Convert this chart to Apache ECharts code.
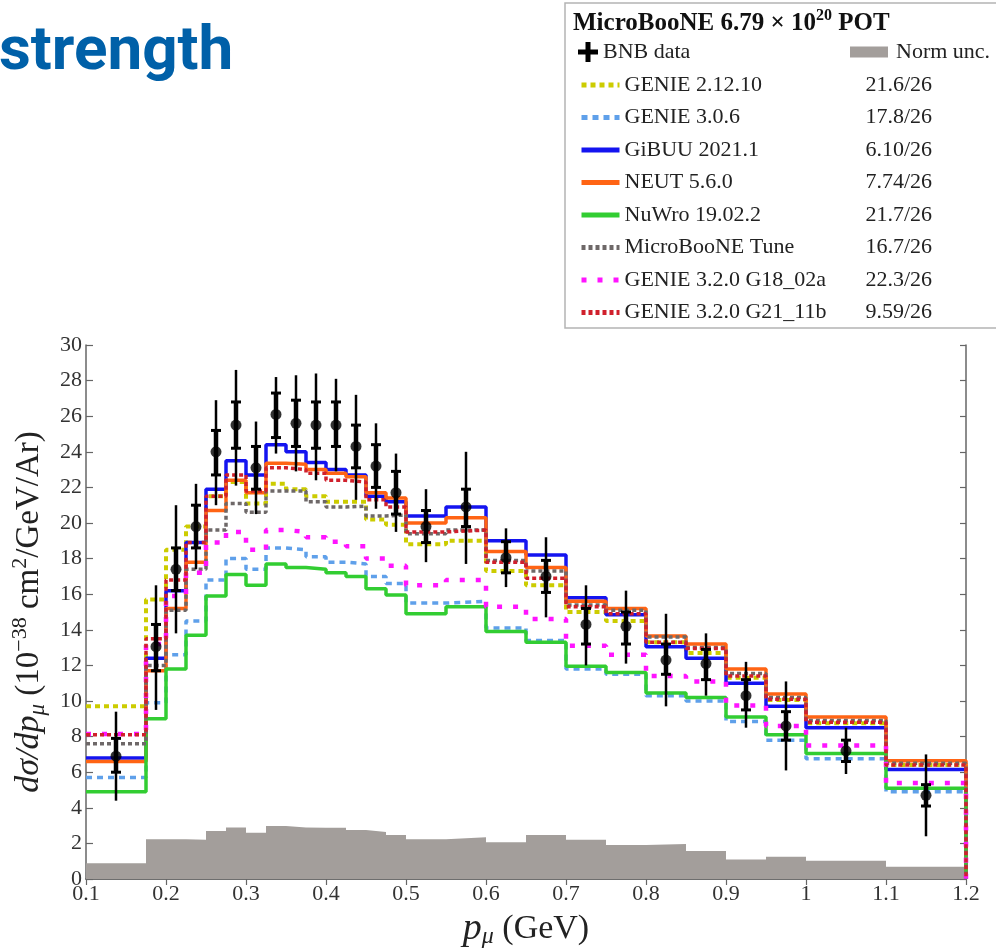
<!DOCTYPE html>
<html>
<head>
<meta charset="utf-8">
<script src="https://cdn.jsdelivr.net/npm/echarts@6/dist/echarts.min.js"></script>
<style>
html, body { margin: 0; padding: 0; background: #fff; }
#chart { width: 996px; height: 951px; }
</style>
</head>
<body>
<div id="chart"></div>
<script>
// bin edges of p_mu (GeV)
const binEdges = [0.1, 0.175, 0.2, 0.225, 0.25, 0.275, 0.3, 0.325, 0.35, 0.375, 0.4, 0.425, 0.45, 0.475,
    0.5, 0.55, 0.6, 0.65, 0.7, 0.75, 0.8, 0.85, 0.9, 0.95, 1.0, 1.1, 1.2];

// BNB data: central value, total (outer) and inner error bar ends
const dataVal = [6.9, 13.05, 17.4, 19.8, 24.0, 25.5, 23.1, 26.1, 25.6, 25.5, 25.5, 24.3, 23.2, 21.7,
    19.8, 20.9, 18.05, 17.0, 14.3, 14.2, 12.3, 12.1, 10.3, 8.6, 7.2, 4.7];
const outerHi = [9.4, 16.5, 21.0, 22.2, 26.9, 28.6, 25.7, 28.2, 28.3, 28.4, 28.1, 27.2, 25.6, 23.9,
    21.9, 24.0, 19.7, 19.2, 16.5, 16.2, 14.9, 13.8, 12.2, 11.1, 8.5, 7.0];
const outerLo = [4.4, 9.5, 13.8, 17.4, 21.0, 22.1, 20.5, 23.9, 22.9, 22.4, 22.9, 21.3, 20.8, 19.5,
    17.8, 17.7, 16.4, 14.7, 12.0, 12.1, 9.7, 10.3, 8.5, 6.1, 5.9, 2.4];
const innerHi = [7.9, 14.3, 18.6, 21.0, 25.2, 26.8, 24.3, 27.3, 26.9, 26.8, 26.8, 25.5, 24.4, 22.9,
    20.7, 21.9, 18.95, 17.9, 15.2, 15.0, 13.2, 12.9, 11.2, 9.4, 7.8, 5.3];
const innerLo = [6.0, 11.7, 16.2, 18.6, 22.7, 24.2, 21.9, 24.8, 24.3, 24.2, 24.3, 23.1, 22.0, 20.5,
    18.9, 19.8, 17.2, 16.1, 13.2, 13.2, 11.5, 11.2, 9.5, 7.8, 6.6, 4.1];

// normalisation uncertainty band
const normUnc = [0.88, 2.23, 2.23, 2.2, 2.7, 2.9, 2.6, 2.98, 2.9, 2.88, 2.88, 2.75, 2.64, 2.47,
    2.23, 2.34, 2.06, 2.47, 2.2, 1.91, 1.96, 1.57, 1.1, 1.25, 1.03, 0.69];

// generator predictions
const genie2 = [9.7, 15.7, 18.5, 19.8, 21.5, 22.3, 21.1, 22.2, 21.9, 21.5, 21.2, 21.2, 20.2, 19.9,
    18.8, 19.0, 17.3, 16.5, 15.0, 14.5, 13.3, 12.7, 11.3, 10.05, 8.75, 6.4];
const genie306 = [5.7, 9.9, 12.6, 14.5, 16.8, 18.0, 17.4, 18.6, 18.5, 18.1, 17.8, 17.7, 17.0, 16.6,
    15.5, 15.6, 14.1, 13.4, 11.8, 11.5, 10.3, 10.0, 8.85, 7.8, 6.75, 4.9];
const gibuu = [6.8, 12.4, 16.2, 18.9, 21.9, 23.5, 22.7, 24.4, 24.0, 23.4, 23.0, 22.7, 21.5, 21.2,
    20.4, 20.9, 19.0, 18.2, 15.8, 14.85, 13.05, 12.4, 11.0, 9.7, 8.5, 6.15];
const neut = [6.6, 11.7, 15.2, 17.8, 20.7, 22.4, 21.7, 23.35, 23.3, 23.0, 22.8, 22.6, 21.7, 21.4,
    20.0, 20.3, 18.4, 17.5, 15.6, 15.2, 13.65, 13.2, 11.8, 10.4, 9.1, 6.65];
const nuwro = [4.9, 9.0, 11.8, 13.7, 15.9, 17.1, 16.5, 17.7, 17.5, 17.4, 17.2, 17.0, 16.3, 15.95,
    14.9, 15.3, 13.9, 13.3, 11.95, 11.6, 10.45, 10.2, 9.1, 8.1, 7.05, 5.1];
const ubTune = [7.6, 12.0, 15.1, 17.4, 19.6, 21.1, 20.6, 21.8, 21.8, 21.2, 20.9, 20.95, 20.4, 20.45,
    19.4, 19.6, 17.9, 17.3, 15.4, 15.1, 13.6, 13.0, 11.55, 10.2, 8.9, 6.5];
const g18 = [8.15, 13.2, 15.9, 17.2, 18.9, 19.5, 18.5, 19.6, 19.5, 19.2, 18.95, 18.7, 18.0, 17.6,
    16.5, 16.8, 15.3, 14.6, 13.1, 12.6, 11.4, 11.1, 9.75, 8.6, 7.5, 5.4];
const g21 = [8.1, 13.5, 16.8, 18.9, 21.5, 22.7, 21.8, 23.1, 23.0, 22.8, 22.4, 22.3, 21.3, 20.9,
    19.5, 19.6, 17.8, 16.9, 15.3, 14.9, 13.3, 12.95, 11.4, 10.1, 8.8, 6.4];

const modelNames = ['GENIE 2.12.10', 'GENIE 3.0.6', 'GiBUU 2021.1', 'NEUT 5.6.0', 'NuWro 19.02.2',
    'MicroBooNE Tune', 'GENIE 3.2.0 G18_02a', 'GENIE 3.2.0 G21_11b'];
const modelChi2 = ['21.6/26', '17.8/26', '6.10/26', '7.74/26', '21.7/26', '16.7/26', '22.3/26', '9.59/26'];
const modelVals = [genie2, genie306, gibuu, neut, nuwro, ubTune, g18, g21];

const modelStyles = [
    { color: '#cccc00', width: 4, type: [5, 4] },
    { color: '#5fa0ea', width: 3.5, type: [6, 5] },
    { color: '#1414f0', width: 3.5, type: 'solid' },
    { color: '#ff6414', width: 3.5, type: 'solid' },
    { color: '#32cd32', width: 3.5, type: 'solid' },
    { color: '#6e6868', width: 3.5, type: [4, 3] },
    { color: '#ff14ff', width: 4.5, type: [5, 11] },
    { color: '#d0202c', width: 3.5, type: [4, 3] }
];

const serif = 'Liberation Serif';

function stepData(vals, drop) {
    var pts = [];
    for (var i = 0; i < vals.length; i++) pts.push([binEdges[i], vals[i]]);
    pts.push([binEdges[vals.length], vals[vals.length - 1]]);
    if (drop) pts.push([binEdges[vals.length], 0]);
    return pts;
}

function plotXsec(div) {
    var series = [];

    series.push({
        name: 'Norm unc.',
        type: 'line',
        step: 'end',
        symbol: 'none',
        data: stepData(normUnc, false),
        color: '#a39e9b',
        lineStyle: { width: 0 },
        areaStyle: { color: '#a39e9b', opacity: 1 },
        z: 1
    });

    modelNames.forEach(function (name, k) {
        var st = modelStyles[k];
        series.push({
            name: name,
            type: 'line',
            step: 'end',
            symbol: 'none',
            data: stepData(modelVals[k], true),
            color: st.color,
            lineStyle: { color: st.color, width: st.width, type: st.type, cap: 'butt' },
            z: 2 + k
        });
    });

    var errData = dataVal.map(function (v, i) {
        var xc = (binEdges[i] + binEdges[i + 1]) / 2;
        return [xc, v, outerHi[i], outerLo[i], innerHi[i], innerLo[i]];
    });

    series.push({
        name: 'BNB data',
        type: 'custom',
        data: errData,
        color: '#000',
        itemStyle: { color: '#000' },
        z: 20,
        renderItem: function (params, api) {
            var x = api.value(0);
            var c = api.coord([x, api.value(1)]);
            var oh = api.coord([x, api.value(2)])[1];
            var ol = api.coord([x, api.value(3)])[1];
            var ih = api.coord([x, api.value(4)])[1];
            var il = api.coord([x, api.value(5)])[1];
            return {
                type: 'group',
                children: [
                    { type: 'line', shape: { x1: c[0], y1: oh, x2: c[0], y2: ol }, style: { stroke: '#000', lineWidth: 2.5 } },
                    { type: 'line', shape: { x1: c[0], y1: ih, x2: c[0], y2: il }, style: { stroke: '#000', lineWidth: 4.5 } },
                    { type: 'line', shape: { x1: c[0] - 5, y1: ih, x2: c[0] + 5, y2: ih }, style: { stroke: '#000', lineWidth: 3 } },
                    { type: 'line', shape: { x1: c[0] - 5, y1: il, x2: c[0] + 5, y2: il }, style: { stroke: '#000', lineWidth: 3 } }
                ]
            };
        }
    });

    series.push({
        name: 'BNB data',
        type: 'scatter',
        symbol: 'circle',
        symbolSize: 11,
        color: '#000',
        data: errData.map(function (d) { return [d[0], d[1]]; }),
        z: 21
    });

    var chi2Of = {};
    modelNames.forEach(function (n, k) { chi2Of[n] = modelChi2[k]; });

    var legendText = { fontFamily: serif, fontSize: 22, color: '#222' };

    var chartDom = document.getElementById(div);
    var myChart = echarts.init(chartDom, null, { renderer: 'canvas' });

    var option = {
        animation: false,
        backgroundColor: '#fff',
        title: [{
            text: 'strength',
            left: -6,
            top: 17,
            textStyle: { fontFamily: 'Roboto', fontWeight: 'bold', fontSize: 62, color: '#0060a8' }
        }, {
            text: '{b|MicroBooNE 6.79 × 10}{s|20}{b| POT}',
            left: 568,
            top: 3,
            textStyle: {
                rich: {
                    b: { fontFamily: serif, fontWeight: 'bold', fontSize: 25, lineHeight: 32, color: '#111' },
                    s: { fontFamily: serif, fontWeight: 'bold', fontSize: 16, lineHeight: 18, verticalAlign: 'top', color: '#111' }
                }
            }
        }],
        graphic: [{
            type: 'rect',
            shape: { x: 565, y: 3, width: 460, height: 325 },
            style: { fill: 'none', stroke: '#b4b4b4', lineWidth: 1.5 },
            z: 0
        }],
        legend: [{
            data: [{ name: 'BNB data', icon: 'path://M3,0h2v3h3v2h-3v3h-2v-3h-3v-2h3z', itemStyle: { color: '#000' } }],
            left: 573,
            top: 36,
            itemWidth: 20,
            itemHeight: 20,
            selectedMode: false,
            textStyle: Object.assign({ padding: [0, 0, 0, 0] }, legendText)
        }, {
            data: ['Norm unc.'],
            left: 845,
            top: 36,
            icon: 'rect',
            itemWidth: 38,
            itemHeight: 11,
            selectedMode: false,
            textStyle: Object.assign({ padding: [0, 0, 0, 3] }, legendText)
        }, {
            data: modelNames,
            orient: 'vertical',
            left: 574,
            top: 69,
            itemWidth: 38,
            itemHeight: 14,
            itemGap: 10.5,
            selectedMode: false,
            itemStyle: { opacity: 0 },
            lineStyle: { width: 5 },
            formatter: function (name) {
                return '{n|' + name + '}{c|' + chi2Of[name] + '}';
            },
            textStyle: {
                padding: [0, 0, 0, 0],
                rich: {
                    n: { fontFamily: serif, fontSize: 22, lineHeight: 22, color: '#222', width: 241 },
                    c: { fontFamily: serif, fontSize: 22, lineHeight: 22, color: '#222' }
                }
            }
        }],
        grid: { left: 86, right: 30, top: 345, bottom: 72, outerBoundsMode: 'none' },
        xAxis: [{
            type: 'value',
            position: 'bottom',
            min: 0.1,
            max: 1.2,
            interval: 0.1,
            axisLine: { show: true, lineStyle: { color: '#666', width: 1.5 } },
            axisTick: { show: true, inside: true, length: 7, lineStyle: { color: '#666', width: 1.2 } },
            axisLabel: { fontFamily: serif, fontSize: 22, color: '#333', margin: 4 },
            splitLine: { show: false },
            name: '{p|p}{s|μ}{t| (GeV)}',
            nameLocation: 'middle',
            nameGap: 26,
            nameTextStyle: {
                rich: {
                    p: { fontFamily: serif, fontStyle: 'italic', fontSize: 38, lineHeight: 40, color: '#222' },
                    s: { fontFamily: serif, fontStyle: 'italic', fontSize: 24, lineHeight: 24, verticalAlign: 'bottom', color: '#222' },
                    t: { fontFamily: serif, fontSize: 34, lineHeight: 40, color: '#222' }
                }
            }
        }, {
            type: 'value',
            position: 'top',
            min: 0.1,
            max: 1.2,
            interval: 0.1,
            axisLine: { show: true, lineStyle: { color: '#666', width: 1.5 } },
            axisTick: { show: true, inside: true, length: 6, lineStyle: { color: '#666', width: 1.2 } },
            axisLabel: { show: false },
            splitLine: { show: false }
        }],
        yAxis: [{
            type: 'value',
            position: 'left',
            min: 0,
            max: 30,
            interval: 2,
            axisLine: { show: true, lineStyle: { color: '#666', width: 1.5 } },
            axisTick: { show: true, inside: true, length: 7, lineStyle: { color: '#666', width: 1.2 } },
            axisLabel: { fontFamily: serif, fontSize: 22, color: '#333', margin: 4 },
            splitLine: { show: false },
            name: '{i|dσ/dp}{s|μ}{r| (10}{u|−38}{r| cm}{u|2}{r|/GeV/Ar)}',
            nameLocation: 'middle',
            nameGap: 30,
            nameTextStyle: {
                rich: {
                    i: { fontFamily: serif, fontStyle: 'italic', fontSize: 34, lineHeight: 40, color: '#222' },
                    s: { fontFamily: serif, fontStyle: 'italic', fontSize: 23, lineHeight: 23, verticalAlign: 'bottom', color: '#222' },
                    r: { fontFamily: serif, fontSize: 33, lineHeight: 40, color: '#222' },
                    u: { fontFamily: serif, fontSize: 22, lineHeight: 22, verticalAlign: 'top', color: '#222' }
                }
            }
        }, {
            type: 'value',
            position: 'right',
            min: 0,
            max: 30,
            interval: 2,
            axisLine: { show: true, lineStyle: { color: '#666', width: 1.5 } },
            axisTick: { show: true, inside: true, length: 6, lineStyle: { color: '#666', width: 1.2 } },
            axisLabel: { show: false },
            splitLine: { show: false }
        }],
        series: series
    };
    myChart.setOption(option);
}

plotXsec('chart');
</script>
</body>
</html>
